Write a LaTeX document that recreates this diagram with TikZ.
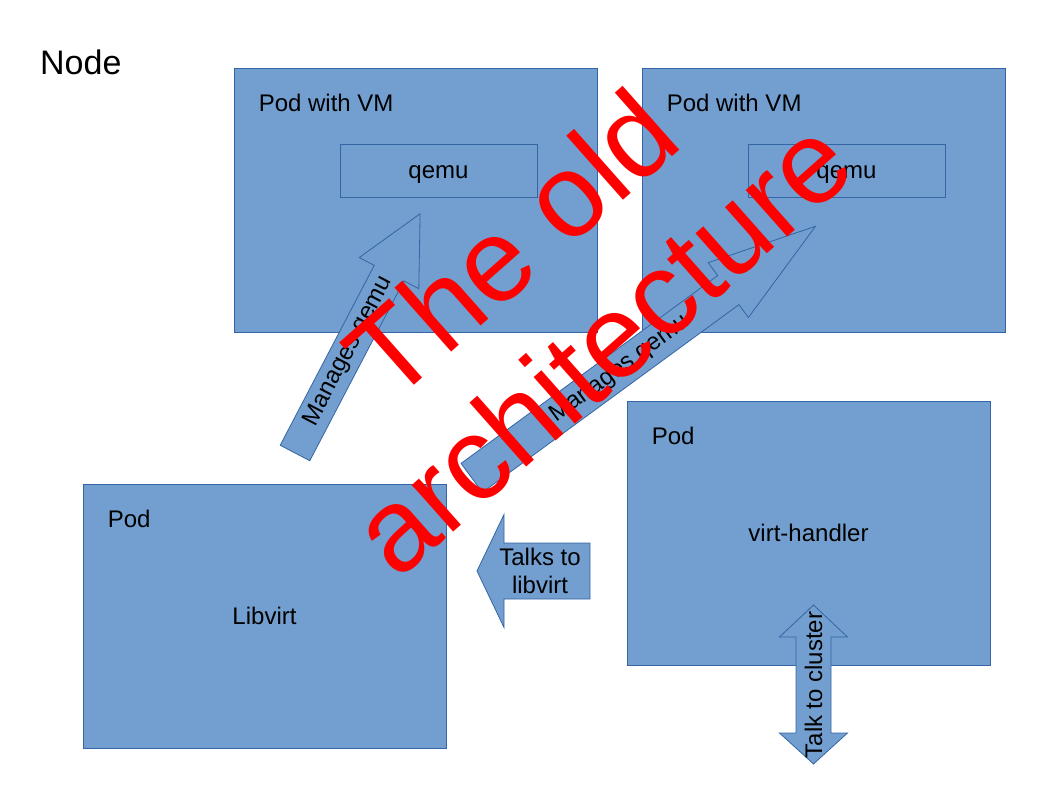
\documentclass[tikz,border=0pt]{standalone}
\usepackage{fontspec}
\setmainfont{Liberation Sans}
\usetikzlibrary{calc}
\definecolor{podfill}{HTML}{729FCF}
\definecolor{podline}{HTML}{3465A4}
\begin{document}
\begin{tikzpicture}[x=1pt, y=-1pt, font=\fontsize{24}{27.6}\selectfont]
    % Styles
    \tikzstyle{pod} = [draw=podline, fill=podfill, rectangle, line width=0.8pt, minimum width=363pt, minimum height=264pt]
    \tikzstyle{qemubox} = [draw=podline, rectangle, line width=0.8pt, minimum width=197pt, minimum height=53pt]
    \tikzstyle{podlabel} = [anchor=west, inner sep=0pt]
    \tikzstyle{blockarrow} = [draw=podline, fill=podfill, line width=0.8pt, line join=miter]
    \tikzstyle{title} = [red, anchor=base, inner sep=0pt, rotate=41.5, font=\fontsize{118}{136}\selectfont]

    \useasboundingbox (0,0) rectangle (1058,794);

    % Nodes
    \node [podlabel, font=\fontsize{34}{40}\selectfont] (nodename) at (40,62) {Node};
    \node [pod] (vmpodA) at (415.5,200) {};
    \node [pod] (vmpodB) at (823.5,200) {};
    \node [pod] (handlerpod) at (808.5,533) {virt-handler};
    \node [pod] (libvirtpod) at (264.5,616) {Libvirt};
    \node [qemubox] (qemuA) at (438.5,170.5) {};
    \node [qemubox] (qemuB) at (846.5,170.5) {};

    % Labels
    \node [podlabel] (vmlabelA) at ($(vmpodA.north west)+(25,35)$) {Pod with VM};
    \node [podlabel] (vmlabelB) at ($(vmpodB.north west)+(25,35)$) {Pod with VM};
    \node [podlabel] (handlerlabel) at ($(handlerpod.north west)+(25,35)$) {Pod};
    \node [podlabel] (libvirtlabel) at ($(libvirtpod.north west)+(25,35)$) {Pod};
    \node (qemutextA) at ($(qemuA)+(0,4)$) {qemu};
    \node (qemutextB) at ($(qemuB)+(0,4)$) {qemu};

    % Block arrows
    \begin{scope}[shift={(295,453)}, rotate=62.4]
        \draw [blockarrow] (0,-16.7) -- (203,-16.7) -- (203,-33.6) -- (270,0) -- (203,33.6) -- (203,16.7) -- (0,16.7) -- cycle;
        \node [transform shape] (managesA) at (115,0) {Manages qemu};
    \end{scope}
    \begin{scope}[shift={(471.7,477.9)}, rotate=36.2]
        \draw [blockarrow] (0,-18) -- (318,-18) -- (318,-34) -- (426,0) -- (318,34) -- (318,18) -- (0,18) -- cycle;
        \node [transform shape] (managesB) at (184,0) {Manages qemu};
    \end{scope}
    \draw [blockarrow] (590,543) -- (504,543) -- (504,514.5) -- (477,571) -- (504,627.5) -- (504,599) -- (590,599) -- cycle;
    \node [align=center] (talks) at (540,571) {Talks to\\libvirt};
    \draw [blockarrow] (813.5,605) -- (847.5,637) -- (831,637) -- (831,733) -- (847.5,733) -- (813.5,764)
        -- (779.5,733) -- (796,733) -- (796,637) -- (779.5,637) -- cycle;
    \node [rotate=90] (cluster) at (813.5,685) {Talk to cluster};

    % Overlay
    \node [title] (titleA) at (538.6,275.3) {The old};
    \node [title] (titleB) at (628.8,377.2) {architecture};
\end{tikzpicture}
\end{document}
